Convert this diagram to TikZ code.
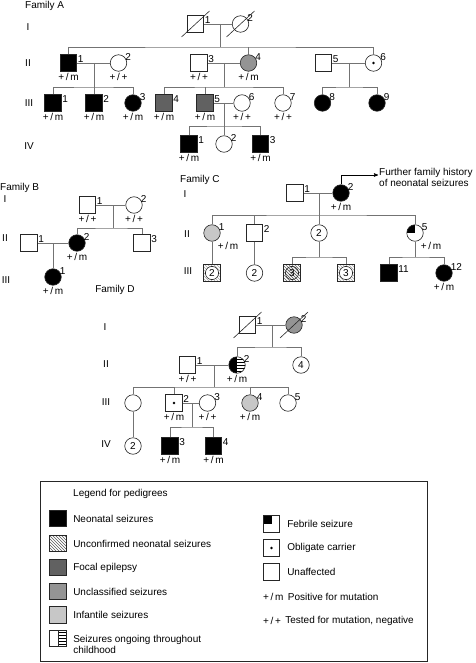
\documentclass[tikz,border=0pt]{standalone}
\usepackage{fontspec}
\setmainfont{Liberation Sans}
\usetikzlibrary{arrows,patterns,positioning}
\newcommand{\gmut}{+\,/\,m}
\newcommand{\gwild}{+\,/\,+}

\begin{document}
\begin{tikzpicture}[x=1pt,y=-1pt,>=stealth',font=\fontsize{10}{11}\selectfont,
		base node/.style={draw=black!85,line width=0.6pt,minimum size=16.5pt,inner sep=0pt},
		male node/.style={base node,rectangle},
		female node/.style={base node,circle},
		neo/.style={fill=black},
		focal/.style={fill=black!62},
		uncl/.style={fill=black!42},
		inf/.style={fill=black!22},
		unconf/.style={pattern=north west lines,pattern color=black!65},
		carrier/.style={path picture={\fill (path picture bounding box.center) circle (1.3pt);}},
		febrile/.style={path picture={\fill (path picture bounding box.north west) rectangle (path picture bounding box.center);}},
		ongoing/.style={path picture={\fill[pattern=horizontal lines] (path picture bounding box.north) rectangle (path picture bounding box.south east);
				\draw (path picture bounding box.north) -- (path picture bounding box.south);}},
		half/.style={path picture={\fill (path picture bounding box.north west) rectangle (path picture bounding box.south);
				\fill[pattern=horizontal lines] (path picture bounding box.north) rectangle (path picture bounding box.south east);}},
		group node/.style={male node,pattern=north west lines,pattern color=black!35,
			path picture={\draw[fill=white] (path picture bounding box.center) circle (6.6pt);}},
		group hatch/.style={male node,pattern=north west lines,pattern color=black!60,
			path picture={\draw[pattern=north west lines,pattern color=black!60] (path picture bounding box.center) circle (6.6pt);}},
		num/.style={inner sep=0.6pt,font=\fontsize{10}{10}\selectfont},
		gt/.style={inner sep=1.2pt,font=\fontsize{10}{10}\selectfont},
		sq lab/.style={label={[num,anchor=north west]north east:#1}},
		ci lab/.style={label={[num,anchor=west]north east:#1}},
		geno/.style={label={[gt]below:#1}},
		geno right/.style={label={[gt,anchor=north west,xshift=-1.5pt,yshift=-2pt]south east:#1}},
		line/.style={draw=black!55,line width=0.6pt},
		slash/.style={draw=black!85,line width=0.6pt},
		gen/.style={inner sep=0pt},
		legend text/.style={inner sep=1pt,align=left}]
	\useasboundingbox (0,0) rectangle (475,663);

	% Family A
	\node[anchor=west,inner sep=0pt] (famA) at (25,6) {Family A};
	\node[gen] (aI) at (28,27) {I};
	\node[gen] (aII) at (28,63) {II};
	\node[gen] (aIII) at (29,103) {III};
	\node[gen] (aIV) at (29,146) {IV};

	\node[male node,sq lab=1] (a11) at (195.5,24) {};
	\node[female node,ci lab=2] (a12) at (240.5,24) {};

	\node[male node,neo,sq lab=1,geno=\gmut] (a21) at (68.5,63) {};
	\node[female node,ci lab=2,geno=\gwild] (a22) at (118.5,63) {};
	\node[male node,sq lab=3,geno=\gwild] (a23) at (199,63) {};
	\node[female node,uncl,ci lab=4,geno=\gmut] (a24) at (248.5,63) {};
	\node[male node,sq lab=5] (a25) at (323.5,63) {};
	\node[female node,carrier,ci lab=6] (a26) at (373.5,63) {};

	\node[male node,neo,sq lab=1,geno=\gmut] (a31) at (53,103) {};
	\node[male node,neo,sq lab=2,geno=\gmut] (a32) at (94,103) {};
	\node[female node,neo,ci lab=3,geno=\gmut] (a33) at (133,103) {};
	\node[male node,focal,sq lab=4,geno=\gmut] (a34) at (164,103) {};
	\node[male node,focal,sq lab=5,geno=\gmut] (a35) at (205,103) {};
	\node[female node,ci lab=6,geno=\gwild] (a36) at (242,103) {};
	\node[female node,ci lab=7,geno=\gwild] (a37) at (283,103) {};
	\node[female node,neo,ci lab=8] (a38) at (322.5,103) {};
	\node[female node,neo,ci lab=9] (a39) at (377,103) {};

	\node[male node,neo,sq lab=1,geno=\gmut] (a41) at (189,144) {};
	\node[female node,ci lab=2] (a42) at (224,144) {};
	\node[male node,neo,sq lab=3,geno=\gmut] (a43) at (260.5,144) {};

	\coordinate (a1s) at (220,47);
	\coordinate (a2s) at (94,87);
	\coordinate (a3s) at (224,87);
	\coordinate (a4s) at (349,87);
	\coordinate (a5s) at (224,126);
	\draw[line] (a11) -- (a12);
	\draw[line] (a1s |- a11) -- (a1s);
	\draw[line] (a21) |- (a1s) -| (a26);
	\draw[line] (a24) -- (a24 |- a1s);
	\draw[line] (a21) -- (a22);
	\draw[line] (a2s |- a21) -- (a2s);
	\draw[line] (a31) |- (a2s) -| (a33);
	\draw[line] (a32) -- (a2s);
	\draw[line] (a23) -- (a24);
	\draw[line] (a3s |- a23) -- (a3s);
	\draw[line] (a34) |- (a3s) -| (a37);
	\draw[line] (a35) -- (a35 |- a3s);
	\draw[line] (a25) -- (a26);
	\draw[line] (a4s |- a25) -- (a4s);
	\draw[line] (a38) |- (a4s) -| (a39);
	\draw[line] (a35) -- (a36);
	\draw[line] (a5s |- a35) -- (a5s);
	\draw[line] (a41) |- (a5s) -| (a43);
	\draw[line] (a42) -- (a5s);

	% Family B
	\node[anchor=west,inner sep=0pt] (famB) at (0,188) {Family B};
	\node[gen] (bI) at (5,199) {I};
	\node[gen] (bII) at (5,238) {II};
	\node[gen] (bIII) at (6,280) {III};

	\node[male node,sq lab=1,geno=\gwild] (b11) at (87.5,205) {};
	\node[female node,ci lab=2,geno=\gwild] (b12) at (134,205) {};
	\node[male node,sq lab=1] (b21) at (29,243) {};
	\node[female node,neo,ci lab=2,geno=\gmut] (b22) at (77,243) {};
	\node[male node,sq lab=3] (b23) at (142,243) {};
	\node[female node,neo,ci lab=1,geno=\gmut] (b31) at (53,277) {};

	\coordinate (b1s) at (113,228);
	\coordinate (b2m) at (53,243);
	\draw[line] (b11) -- (b12);
	\draw[line] (b1s |- b11) -- (b1s);
	\draw[line] (b22) |- (b1s) -| (b23);
	\draw[line] (b21) -- (b22);
	\draw[line] (b2m) -- (b31);

	% Family C
	\node[anchor=west,inner sep=0pt] (famC) at (180,180) {Family C};
	\node[gen] (cI) at (185,194) {I};
	\node[gen] (cII) at (187,234) {II};
	\node[gen] (cIII) at (188,271) {III};

	\node[male node,sq lab=1] (c11) at (295,193) {};
	\node[female node,neo,ci lab=2,geno=\gmut] (c12) at (341,193) {};
	\node[anchor=west,inner sep=1pt,align=left,font=\fontsize{10}{11}\selectfont] (hist) at (378,177)
		{Further family history\\of neonatal seizures};
	\draw[line,draw=black,->] (c12) |- ([yshift=2pt]hist.west);

	\node[female node,inf,ci lab=1,geno right=\gmut] (c21) at (212,233) {};
	\node[male node,sq lab=2] (c22) at (254.5,233) {};
	\node[female node] (c23) at (319,233) {2};
	\node[female node,febrile,ci lab=5,geno right=\gmut] (c25) at (415,233) {};

	\node[group node] (c31) at (212,273) {2};
	\node[female node] (c32) at (254.5,273) {2};
	\node[group hatch] (c33) at (292,273) {3};
	\node[group node] (c34) at (346,273) {3};
	\node[male node,neo,sq lab=11] (c311) at (389,273) {};
	\node[female node,neo,ci lab=12,geno=\gmut] (c312) at (444,273) {};

	\coordinate (c1s) at (319,215);
	\coordinate (c2s) at (319,257);
	\coordinate (c3s) at (415,257);
	\draw[line] (c11) -- (c12);
	\draw[line] (c1s |- c11) -- (c1s);
	\draw[line] (c21) |- (c1s) -| (c25);
	\draw[line] (c22) -- (c22 |- c1s);
	\draw[line] (c23) -- (c1s);
	\draw[line] (c21) -- (c31);
	\draw[line] (c22) -- (c32);
	\draw[line] (c23) -- (c2s);
	\draw[line] (c33) |- (c2s) -| (c34);
	\draw[line] (c25) -- (c3s);
	\draw[line] (c311) |- (c3s) -| (c312);

	% Family D
	\node[inner sep=0pt] (famD) at (115,290) {Family D};
	\node[gen] (dI) at (105,327) {I};
	\node[gen] (dII) at (106,364) {II};
	\node[gen] (dIII) at (106,402) {III};
	\node[gen] (dIV) at (106,444) {IV};

	\node[male node,sq lab=1] (d11) at (247.5,325) {};
	\node[female node,uncl,ci lab=2] (d12) at (294,325) {};
	\node[male node,sq lab=1,geno=\gwild] (d21) at (187.5,365) {};
	\node[female node,half,ci lab=2,geno=\gmut] (d22) at (237,365) {};
	\node[female node] (d24) at (301,365) {4};

	\node[female node] (d31) at (133,403) {};
	\node[male node,carrier,sq lab=2,geno=\gmut] (d32) at (174,403) {};
	\node[female node,ci lab=3,geno=\gwild] (d33) at (207.5,403) {};
	\node[female node,inf,ci lab=4,geno=\gmut] (d34) at (250,403) {};
	\node[female node,ci lab=5] (d35) at (288,403) {};

	\node[female node] (d41) at (133,446) {2};
	\node[male node,neo,sq lab=3,geno=\gmut] (d43) at (170,446) {};
	\node[male node,neo,sq lab=4,geno=\gmut] (d44) at (213.5,446) {};

	\coordinate (d1s) at (272,347);
	\coordinate (d2s) at (214,387);
	\coordinate (d3s) at (192,427);
	\draw[line] (d11) -- (d12);
	\draw[line] (d1s |- d11) -- (d1s);
	\draw[line] (d22) |- (d1s) -| (d24);
	\draw[line] (d21) -- (d22);
	\draw[line] (d2s |- d21) -- (d2s);
	\draw[line] (d31) |- (d2s) -| (d35);
	\draw[line] (d32) -- (d32 |- d2s);
	\draw[line] (d34) -- (d34 |- d2s);
	\draw[line] (d32) -- (d33);
	\draw[line] (d3s |- d32) -- (d3s);
	\draw[line] (d43) |- (d3s) -| (d44);
	\draw[line] (d31) -- (d41);

	% deceased
	\foreach \n in {a11,a12,d11,d12}
		\draw[slash] ([shift={(-14,13)}]\n.center) -- ([shift={(14,-13)}]\n.center);

	% Legend
	\draw[draw=black!85,line width=0.6pt] (40,481) rectangle (427,661.5);
	\node[anchor=west,legend text] (ltitle) at (72,494) {Legend for pedigrees};
	\node[male node,neo] (l1) at (58,518.5) {};
	\node[male node,unconf] (l2) at (58,543.5) {};
	\node[male node,focal] (l3) at (58,567.5) {};
	\node[male node,uncl] (l4) at (58,591.5) {};
	\node[male node,inf] (l5) at (58,615) {};
	\node[male node,ongoing] (l6) at (58,638.5) {};
	\node[legend text,right=5.5pt of l1] {Neonatal seizures};
	\node[legend text,right=5.5pt of l2] {Unconfirmed neonatal seizures};
	\node[legend text,right=5.5pt of l3] {Focal epilepsy};
	\node[legend text,right=5.5pt of l4] {Unclassified seizures};
	\node[legend text,right=5.5pt of l5] {Infantile seizures};
	\node[legend text,right=5.5pt of l6,yshift=-5.5pt] {Seizures ongoing throughout\\childhood};

	\node[male node,febrile] (r1) at (271.5,524) {};
	\node[male node,carrier] (r2) at (271.5,548) {};
	\node[male node] (r3) at (271.5,572) {};
	\node[legend text,right=6pt of r1] {Febrile seizure};
	\node[legend text,right=6pt of r2] {Obligate carrier};
	\node[legend text,right=6pt of r3] {Unaffected};
	\node[legend text,anchor=west] (k1) at (262,597) {\gmut};
	\node[legend text,anchor=west] (k2) at (262,621) {\gwild};
	\node[legend text,right=2pt of k1] {Positive for mutation};
	\node[legend text,right=2pt of k2] {Tested for mutation, negative};
\end{tikzpicture}
\end{document}
